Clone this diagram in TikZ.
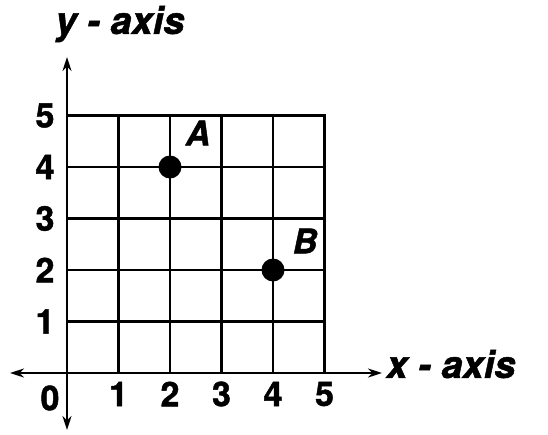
\documentclass[tikz,border=0pt]{standalone}
\usepackage{fontspec}
\setmainfont{TeX Gyre Heros}[BoldFeatures={FakeBold=1.3},BoldItalicFeatures={FakeBold=1.3}]
\usetikzlibrary{arrows.meta}
\begin{document}
\begin{tikzpicture}[x=1pt,y=-1pt,
  gridline/.style={line width=2.6pt,line cap=rect},
  axisline/.style={line width=2.2pt,-{Stealth[length=14pt,width=9pt]}},
  axlabel/.style={font=\fontsize{38}{40}\selectfont\bfseries\itshape,inner sep=0pt},
  num/.style={font=\fontsize{34}{36}\selectfont\bfseries,inner sep=0pt},
  ptlabel/.style={font=\fontsize{34}{36}\selectfont\bfseries\itshape,inner sep=0pt},
  dot/.style={circle,fill=black,minimum size=23pt,inner sep=0pt}]
\useasboundingbox (0,0) rectangle (548,434);
\def\ox{67}\def\oy{373}\def\u{51.5}
% grid
\foreach \i in {1,...,5}{
  \draw[gridline] (\ox+\i*\u,\oy) -- (\ox+\i*\u,\oy-5*\u);
  \draw[gridline] (\ox,\oy-\i*\u) -- (\ox+5*\u,\oy-\i*\u);
}
% axes
\coordinate (O) at (\ox,\oy);
\coordinate (ytop) at (\ox,57);
\coordinate (ybot) at (\ox,430);
\coordinate (xleft) at (10,\oy);
\coordinate (xright) at (382,\oy);
\draw[axisline] (O) -- (ytop);
\draw[axisline] (O) -- (ybot);
\draw[axisline] (O) -- (xright);
\draw[axisline] (O) -- (xleft);
% axis labels
\node[axlabel] (ylab) at (120,24) {y - axis};
\node[axlabel] (xlab) at (451,364) {x - axis};
% y numbers
\foreach \i in {1,...,5}{
  \node[num] (y\i) at (45,\oy-\i*\u) {\i};
}
\node[num] (x0) at (50,398) {0};
\foreach \i in {1,...,5}{
  \node[num] (x\i) at (\ox+\i*\u,394) {\i};
}
% points
\node[dot] (A) at (\ox+2*\u,\oy-4*\u) {};
\node[dot] (B) at (\ox+4*\u,\oy-2*\u) {};
\node[ptlabel] (Alab) at (198,133) {A};
\node[ptlabel] (Blab) at (305,241) {B};
\end{tikzpicture}
\end{document}
